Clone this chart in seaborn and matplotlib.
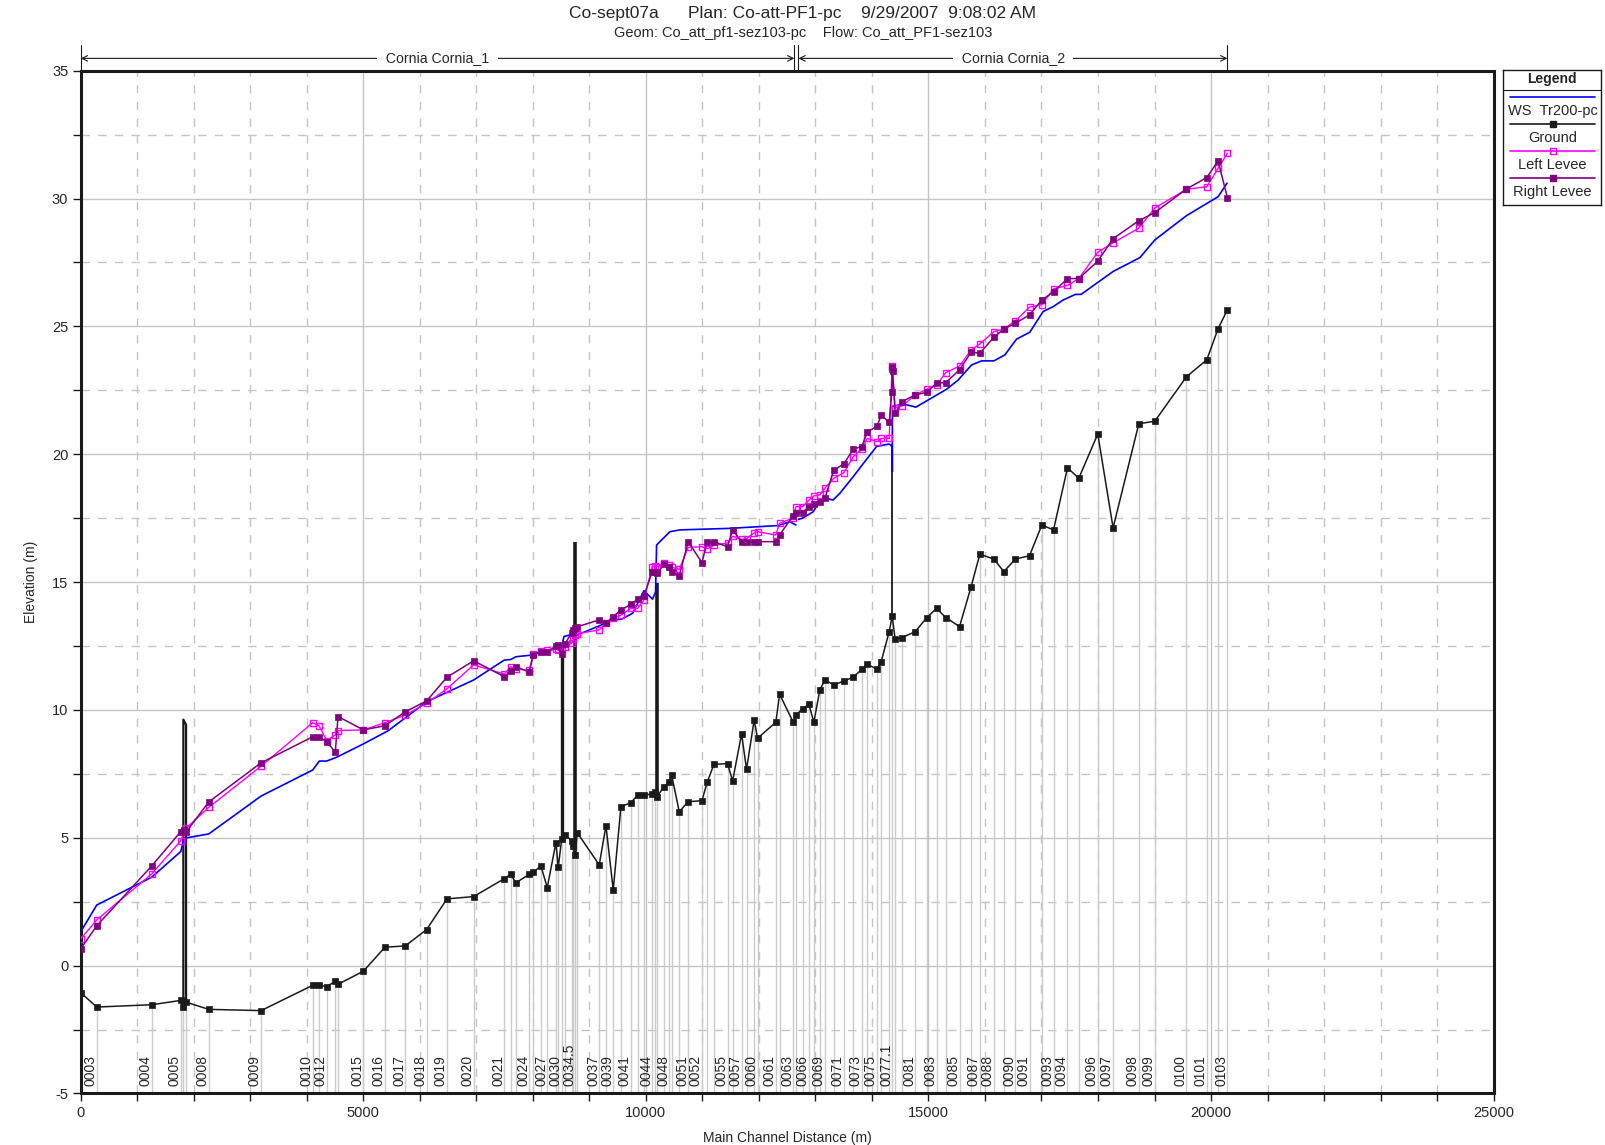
import numpy as np
import pandas as pd
import seaborn as sns
from matplotlib import pyplot as plt
from matplotlib import rcParams
from matplotlib import transforms as mtransforms
from matplotlib.ticker import MultipleLocator

sns.set_theme(style='white')
rcParams['font.family'] = ['Liberation Sans', 'DejaVu Sans']
rcParams['axes.unicode_minus'] = False

#%% data
# ground (main channel invert), one point per cross section
gr_x = [0, 283, 1256, 1769, 1815, 1863, 2264, 3190, 4104, 4216, 4352, 4504, 4552, 5000,
        5383, 5742, 6120, 6480, 6952, 7494, 7606, 7700, 7936, 8007, 8143, 8254, 8408, 8449,
        8509, 8567, 8686, 8714, 8749, 8785, 9174, 9293, 9422, 9558, 9735, 9853, 9965, 10112,
        10159, 10200, 10319, 10413, 10455, 10590, 10749, 10991, 11085, 11203, 11445, 11534,
        11693, 11781, 11916, 11976, 12300, 12365, 12606, 12654, 12772, 12884, 12972, 13078,
        13167, 13326, 13503, 13668, 13822, 13915, 14092, 14163, 14305, 14358, 14411, 14535,
        14765, 14971, 15143, 15307, 15550, 15755, 15909, 16157, 16333, 16540, 16788, 17006,
        17213, 17460, 17660, 17996, 18267, 18722, 19005, 19566, 19925, 20125, 20291]
gr_z = [-1.06, -1.62, -1.53, -1.36, -1.62, -1.43, -1.71, -1.76, -0.77, -0.77, -0.82, -0.61, -0.73, -0.22,
        0.72, 0.77, 1.41, 2.61, 2.70, 3.40, 3.57, 3.24, 3.57, 3.65, 3.90, 3.05, 4.81, 3.85,
        4.94, 5.11, 4.89, 4.68, 4.33, 5.20, 3.94, 5.47, 2.96, 6.22, 6.37, 6.67, 6.67, 6.71,
        6.79, 6.61, 7.00, 7.17, 7.46, 6.02, 6.41, 6.45, 7.17, 7.87, 7.90, 7.22,
        9.06, 7.68, 9.61, 8.89, 9.52, 10.62, 9.52, 9.80, 10.04, 10.22, 9.52, 10.78,
        11.17, 10.98, 11.13, 11.28, 11.59, 11.79, 11.59, 11.89, 13.06, 13.67, 12.76, 12.83,
        13.06, 13.61, 13.97, 13.61, 13.26, 14.82, 16.09, 15.90, 15.41, 15.90, 16.03, 17.23,
        17.04, 19.47, 19.06, 20.79, 17.12, 21.19, 21.29, 23.03, 23.69, 24.91, 25.65]

# water surface Tr200, reach Cornia_1 and Cornia_2
ws1_x = [0, 283, 1256, 1769, 1827, 2264, 3190, 4104, 4221, 4352, 4529, 5000, 5442, 6120,
         6952, 7494, 7606, 7700, 8007, 8143, 8479, 8509, 8550, 8656, 8744, 8785, 9187, 9434,
         9570, 9765, 9965, 10118, 10171, 10189, 10425, 10602, 11486, 12340, 12547, 12654]
ws1_z = [1.33, 2.37, 3.46, 4.46, 4.98, 5.15, 6.63, 7.65, 8.00, 8.00, 8.15, 8.67, 9.19, 10.32,
         11.17, 11.95, 11.97, 12.08, 12.15, 12.28, 12.41, 12.44, 12.87, 12.93, 13.02, 12.93, 13.30, 13.52,
         13.55, 13.78, 14.66, 14.33, 14.62, 16.45, 16.97, 17.04, 17.10, 17.21, 17.36, 17.23]
ws2_x = [12700, 12772, 12960, 13048, 13137, 13313, 13432, 13668, 13904, 14081, 14305, 14358,
         14360, 14362, 14552, 14777, 15320, 15525, 15762, 15939, 16157, 16351, 16558, 16793,
         17029, 17206, 17382, 17600, 17700, 18270, 18742, 19005, 19566, 20125, 20284]
ws2_z = [17.45, 17.50, 17.75, 18.08, 18.30, 18.21, 18.47, 19.12, 19.80, 20.30, 20.40, 20.30,
         19.32, 21.86, 21.97, 21.84, 22.54, 22.90, 23.49, 23.65, 23.65, 23.88, 24.50, 24.77,
         25.58, 25.77, 26.03, 26.25, 26.25, 27.15, 27.69, 28.38, 29.33, 30.07, 30.60]

# left levee
ll_x = [0, 283, 1256, 1769, 1827, 1863, 2264, 3190, 4104, 4216, 4352, 4504, 4552, 5000,
        5383, 5742, 6120, 6480, 6952, 7494, 7606, 7700, 7936, 8007, 8143, 8254, 8408, 8449,
        8509, 8567, 8686, 8714, 8749, 8785, 9174, 9293, 9422, 9558, 9735, 9853, 9965, 10112,
        10159, 10200, 10319, 10413, 10455, 10590, 10749, 10991, 11085, 11203, 11445, 11534,
        11693, 11781, 11916, 11976, 12300, 12365, 12606, 12654, 12772, 12884, 12972, 13078,
        13167, 13326, 13503, 13668, 13822, 13915, 14092, 14163, 14305, 14358, 14362, 14411,
        14535, 14765, 14971, 15143, 15307, 15550, 15755, 15909, 16157, 16333, 16540, 16788,
        17006, 17213, 17460, 17660, 17996, 18267, 18722, 19005, 19566, 19925, 20125, 20291]
ll_z = [1.05, 1.79, 3.59, 4.88, 5.25, 5.37, 6.19, 7.80, 9.50, 9.38, 8.80, 9.02, 9.19, 9.22,
        9.50, 9.80, 10.26, 10.83, 11.76, 11.40, 11.69, 11.60, 11.55, 12.18, 12.30, 12.33, 12.38, 12.33,
        12.40, 12.45, 12.62, 12.76, 12.93, 12.98, 13.13, 13.40, 13.58, 13.71, 13.97, 13.97, 14.30, 15.60,
        15.62, 15.60, 15.73, 15.67, 15.58, 15.50, 16.36, 16.38, 16.30, 16.44, 16.53, 16.79,
        16.67, 16.70, 16.93, 16.97, 16.84, 17.30, 17.50, 17.95, 17.95, 18.20, 18.37, 18.41,
        18.67, 19.06, 19.28, 19.90, 20.20, 20.62, 20.49, 20.62, 20.62, 23.45, 23.35, 21.80,
        21.89, 22.32, 22.54, 22.71, 23.19, 23.45, 24.08, 24.31, 24.79, 24.90, 25.22, 25.75,
        25.85, 26.47, 26.60, 26.87, 27.90, 28.27, 28.84, 29.63, 30.36, 30.46, 31.18, 31.77]

# right levee
rl_x = [0, 283, 1256, 1769, 1827, 1863, 2264, 3190, 4104, 4216, 4352, 4504, 4552, 5000,
        5383, 5742, 6120, 6480, 6952, 7494, 7606, 7700, 7936, 8007, 8143, 8254, 8408, 8449,
        8509, 8567, 8686, 8714, 8749, 8785, 9174, 9293, 9422, 9558, 9735, 9853, 9965, 10112,
        10159, 10200, 10319, 10413, 10455, 10590, 10749, 10991, 11085, 11203, 11445, 11534,
        11693, 11781, 11916, 11976, 12300, 12365, 12606, 12654, 12772, 12884, 12972, 13078,
        13167, 13326, 13503, 13668, 13822, 13915, 14092, 14163, 14305, 14352, 14358, 14364,
        14411, 14535, 14765, 14971, 15143, 15307, 15550, 15755, 15909, 16157, 16333, 16540,
        16788, 17006, 17213, 17460, 17660, 17996, 18267, 18722, 19005, 19566, 19925, 20125, 20291]
rl_z = [0.66, 1.56, 3.90, 5.24, 5.30, 5.22, 6.40, 7.93, 8.95, 8.95, 8.75, 8.36, 9.74, 9.22,
        9.38, 9.93, 10.35, 11.28, 11.92, 11.30, 11.53, 11.69, 11.48, 12.15, 12.28, 12.26, 12.50, 12.52,
        12.17, 12.58, 13.02, 13.13, 13.19, 13.25, 13.52, 13.39, 13.65, 13.91, 14.13, 14.33, 14.46, 15.41,
        15.38, 15.34, 15.70, 15.60, 15.41, 15.25, 16.58, 15.76, 16.58, 16.58, 16.38, 17.04,
        16.58, 16.58, 16.58, 16.58, 16.58, 16.84, 17.60, 17.72, 17.72, 17.95, 18.05, 18.15,
        18.28, 19.38, 19.62, 20.20, 20.30, 20.86, 21.10, 21.53, 21.25, 22.45, 23.40, 23.25,
        21.60, 22.06, 22.32, 22.42, 22.78, 22.80, 23.30, 23.99, 23.95, 24.57, 24.90, 25.12,
        25.45, 26.03, 26.35, 26.87, 26.87, 27.55, 28.43, 29.13, 29.45, 30.37, 30.82, 31.47, 30.02]

# bridges / inline structures drawn as deck lines
br_x = [1815, 1815, 1863, 1863]
br_z = [-1.62, 9.62, 9.42, -1.43]
st_x = [8509, 8749, 10200, 14358]
st_bot = [4.94, 4.33, 6.61, 13.67]
st_top = [12.48, 16.56, 14.95, 20.40]
st_lw = [2.4, 2.6, 2.6, 1.3]

# river stations shown along the bottom
lab_x = [283, 1256, 1769, 2264, 3190, 4104, 4352, 5000, 5383, 5742, 6120, 6480, 6952, 7494,
         7936, 8254, 8509, 8749, 9174, 9422, 9735, 10112, 10413, 10749, 10991, 11445, 11693,
         11976, 12300, 12606, 12884, 13167, 13503, 13822, 14092, 14358, 14765, 15143, 15550,
         15909, 16157, 16540, 16788, 17213, 17460, 17996, 18267, 18722, 19005, 19566, 19925, 20291]
lab_txt = ['0003', '0004', '0005', '0008', '0009', '0010', '0012', '0015', '0016', '0017',
           '0018', '0019', '0020', '0021', '0024', '0027', '0030', '0034.5', '0037', '0039',
           '0041', '0044', '0048', '0051', '0052', '0055', '0057', '0060', '0061', '0063',
           '0066', '0069', '0071', '0073', '0075', '0077.1', '0081', '0083', '0085', '0087',
           '0088', '0090', '0091', '0093', '0094', '0096', '0097', '0098', '0099', '0100',
           '0101', '0103']

reach_name = ['Cornia Cornia_1', 'Cornia Cornia_2']
reach_beg = [0, 12700]
reach_end = [12627, 20290]

#%%
fig = plt.figure(figsize=(16.06, 11.45), dpi=100)
ax = fig.add_axes([0.0503, 0.045, 0.8797, 0.8933])

xmin, xmax, ymin, ymax = 0, 25000, -5, 35
ax.set_xlim(xmin, xmax)
ax.set_ylim(ymin, ymax)

# grid: solid every 5000 / 5 m, dashed in between
gc = '#c4c4c4'
for gx in np.arange(1000, xmax, 1000):
    if gx % 5000 == 0:
        ax.axvline(gx, color=gc, lw=1.0, zorder=0)
    else:
        ax.axvline(gx, color=gc, lw=1.0, ls=(0, (6, 6)), zorder=0)
for gy in np.arange(-2.5, ymax, 2.5):
    if gy % 5 == 0:
        ax.axhline(gy, color=gc, lw=1.0, zorder=0)
    else:
        ax.axhline(gy, color=gc, lw=1.0, ls=(0, (6, 6)), zorder=0)

# station lines from the invert down to the bottom
ax.vlines(gr_x, ymin, gr_z, color='#cbcbcb', lw=1.0, zorder=1)

# structures
ax.plot(br_x, br_z, color='k', lw=1.6, zorder=2)
for i in range(len(st_x)):
    ax.vlines(st_x[i], st_bot[i], st_top[i], color='k', lw=st_lw[i], zorder=2)

df_gr = pd.DataFrame({'x': gr_x, 'z': gr_z})
sns.lineplot(data=df_gr, x='x', y='z', sort=False, estimator=None, ax=ax, color='k', lw=1.1,
             marker='s', markersize=4.6, markeredgecolor='k', markeredgewidth=0.5, zorder=3)

for wx, wz in [(ws1_x, ws1_z), (ws2_x, ws2_z)]:
    sns.lineplot(x=wx, y=wz, sort=False, estimator=None, ax=ax, color='#0000ff', lw=1.2, zorder=4)

sns.lineplot(x=ll_x, y=ll_z, sort=False, estimator=None, ax=ax, color='#ff00ff', lw=1.0,
             marker='s', markersize=4.4, markerfacecolor='none', markeredgecolor='#ff00ff',
             markeredgewidth=1.0, zorder=5)
sns.lineplot(x=rl_x, y=rl_z, sort=False, estimator=None, ax=ax, color='#800080', lw=1.1,
             marker='s', markersize=4.6, markeredgecolor='#800080', markeredgewidth=0.5, zorder=6)

# station labels
for sx, st in zip(lab_x, lab_txt):
    ax.text(sx + 15, ymin + 0.3, st, rotation=90, ha='right', va='bottom', fontsize=10, zorder=7)

# reach bars above the plot
trans = mtransforms.blended_transform_factory(ax.transData, ax.transAxes)
for name, xb, xe in zip(reach_name, reach_beg, reach_end):
    ax.plot([xb, xb], [1.0, 1.025], color='k', lw=0.8, transform=trans, clip_on=False)
    ax.plot([xe, xe], [1.0, 1.025], color='k', lw=0.8, transform=trans, clip_on=False)
    ax.annotate('', xy=(xb, 1.012), xytext=(xe, 1.012), xycoords=trans, textcoords=trans,
                arrowprops=dict(arrowstyle='<->', lw=0.8, color='k', shrinkA=0, shrinkB=0,
                                mutation_scale=10))
    ax.text((xb + xe) / 2, 1.012, '  ' + name + '  ', transform=trans, ha='center', va='center',
            fontsize=10.2, bbox=dict(facecolor='white', edgecolor='none', pad=0.5))

# axes cosmetics
for sp in ax.spines.values():
    sp.set_linewidth(2.2)
    sp.set_color('k')
ax.xaxis.set_major_locator(MultipleLocator(5000))
ax.xaxis.set_minor_locator(MultipleLocator(1000))
ax.yaxis.set_major_locator(MultipleLocator(5))
ax.yaxis.set_minor_locator(MultipleLocator(2.5))
ax.tick_params(which='both', direction='out', length=6, width=1, color='k', bottom=True, left=True)
ax.tick_params(labelsize=10.5, pad=3)
ax.set_xlabel('Main Channel Distance (m)', fontsize=10, labelpad=8)
ax.set_ylabel('Elevation (m)', fontsize=10, labelpad=10)

fig.text(0.5, 0.988, 'Co-sept07a      Plan: Co-att-PF1-pc    9/29/2007  9:08:02 AM',
         ha='center', va='center', fontsize=12.5, family=['Liberation Sans Narrow', 'Liberation Sans'])
fig.text(0.5, 0.971, 'Geom: Co_att_pf1-sez103-pc    Flow: Co_att_PF1-sez103',
         ha='center', va='center', fontsize=10.5, family=['Liberation Sans Narrow', 'Liberation Sans'])

# legend box
lg = fig.add_axes([0.9359, 0.821, 0.0610, 0.1179])
lg.set_xlim(0, 98)
lg.set_ylim(135, 0)
lg.set_xticks([])
lg.set_yticks([])
for sp in lg.spines.values():
    sp.set_linewidth(1.0)
    sp.set_color('k')
lg.text(49, 9, 'Legend', ha='center', va='center', fontsize=10, fontweight='bold')
lg.axhline(20, color='k', lw=0.8)
leg_names = ['WS  Tr200-pc', 'Ground', 'Left Levee', 'Right Levee']
leg_col = ['#0000ff', 'k', '#ff00ff', '#800080']
leg_mk = [None, 's', 's', 's']
leg_fc = [None, 'k', 'none', '#800080']
for i in range(4):
    yl = 27.5 + 27 * i
    lg.plot([7, 92], [yl, yl], color=leg_col[i], lw=1.2)
    if leg_mk[i]:
        lg.plot([49.5], [yl], marker='s', markersize=4.6, color=leg_col[i],
                markerfacecolor=leg_fc[i], markeredgewidth=1.0)
    lg.text(49.5, yl + 14, leg_names[i], ha='center', va='center', fontsize=10.5)

fig.savefig('out.png', dpi=100)
